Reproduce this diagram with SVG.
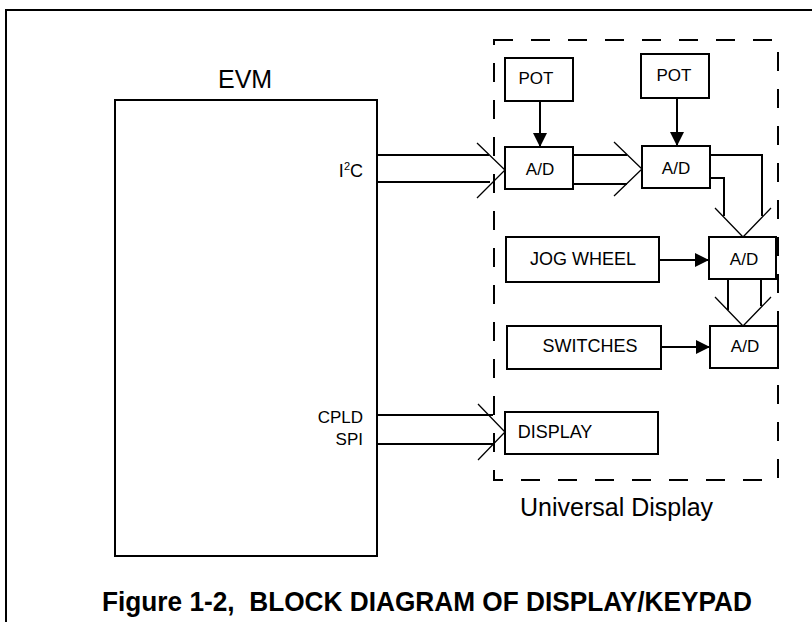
<svg xmlns="http://www.w3.org/2000/svg" width="812" height="622" viewBox="0 0 812 622">
<style>
.box{fill:#fff;stroke:#000;stroke-width:2}
.ln{fill:none;stroke:#000;stroke-width:2}
.chev{fill:none;stroke:#000;stroke-width:1.3}
.lbl{font-family:"Liberation Sans",Arial,sans-serif;font-size:17px;fill:#000}
.lbl2{font-family:"Liberation Sans",Arial,sans-serif;font-size:18px;fill:#000}
.big{font-family:"Liberation Sans",Arial,sans-serif;font-size:25px;fill:#000}
.title{font-family:"Liberation Sans",Arial,sans-serif;font-size:28px;font-weight:bold;fill:#000;white-space:pre}
</style>
<defs>
<marker id="ah" markerUnits="userSpaceOnUse" markerWidth="14" markerHeight="14" refX="14" refY="7" orient="auto">
<path d="M0,0 L14,7 L0,14 Z" fill="#000"/>
</marker>
</defs>
<rect width="812" height="622" fill="#fff"/>
<path d="M6,622 V10 H812" class="ln"/>
<rect x="494" y="40" width="284" height="440" fill="none" stroke="#000" stroke-width="2" stroke-dasharray="19 18"/>
<text x="520" y="516" class="big">Universal Display</text>
<text x="102" y="611" class="title" xml:space="preserve" textLength="650" lengthAdjust="spacingAndGlyphs">Figure 1-2,  BLOCK DIAGRAM OF DISPLAY/KEYPAD</text>
<g id="connectors">
<path d="M377,155 H489 M377,182 H490" class="ln"/>
<path d="M477,143 L505,170 L477,198" class="chev"/>
<path d="M573,155 H627 M573,184 H627" class="ln"/>
<path d="M614,142 L642,169 L614,196" class="chev"/>
<path d="M710,155 H762 V216 M710,178 H724 V216" class="ln"/>
<path d="M715,208 L743,237 L771,208" class="chev"/>
<path d="M728,279 V310 M761,279 V306" class="ln"/>
<path d="M715,297 L743,326 L771,297" class="chev"/>
<path d="M377,415 H493 M377,444 H493" class="ln"/>
<path d="M478,404 L505,432 L478,460" class="chev"/>
<line x1="540" y1="101" x2="540" y2="147" class="ln" marker-end="url(#ah)"/>
<line x1="677" y1="98" x2="677" y2="146" class="ln" marker-end="url(#ah)"/>
<line x1="659" y1="260" x2="709" y2="260" class="ln" marker-end="url(#ah)"/>
<line x1="661" y1="347" x2="710" y2="347" class="ln" marker-end="url(#ah)"/>
</g>
<g id="evm">
<rect x="115" y="100" width="262" height="456" class="box"/>
<text x="218" y="88" class="big">EVM</text>
<text x="363" y="177" class="lbl2" text-anchor="end">I<tspan style="font-size:11px" dy="-7">2</tspan><tspan dy="7">C</tspan></text>
<text x="363" y="423" class="lbl" text-anchor="end">CPLD</text>
<text x="363" y="445" class="lbl" text-anchor="end">SPI</text>
</g>
<g id="pot1"><rect x="505" y="58" width="68" height="43" class="box"/><text x="536" y="84" class="lbl" text-anchor="middle">POT</text></g>
<g id="pot2"><rect x="641" y="54" width="68" height="44" class="box"/><text x="674" y="81" class="lbl" text-anchor="middle">POT</text></g>
<g id="ad1"><rect x="505" y="147" width="68" height="42" class="box"/><text x="540" y="175" class="lbl" text-anchor="middle">A/D</text></g>
<g id="ad2"><rect x="642" y="146" width="68" height="42" class="box"/><text x="676" y="174" class="lbl" text-anchor="middle">A/D</text></g>
<g id="jog"><rect x="506" y="237" width="153" height="45" class="box"/><text x="583" y="265" class="lbl2" text-anchor="middle">JOG WHEEL</text></g>
<g id="ad3"><rect x="709" y="237" width="67" height="42" class="box"/><text x="744" y="265" class="lbl" text-anchor="middle">A/D</text></g>
<g id="switches"><rect x="507" y="326" width="154" height="43" class="box"/><text x="590" y="352" class="lbl2" text-anchor="middle">SWITCHES</text></g>
<g id="ad4"><rect x="710" y="326" width="68" height="42" class="box"/><text x="745" y="352" class="lbl" text-anchor="middle">A/D</text></g>
<g id="display"><rect x="505" y="412" width="153" height="42" class="box"/><text x="555" y="438" class="lbl2" text-anchor="middle">DISPLAY</text></g>
</svg>
